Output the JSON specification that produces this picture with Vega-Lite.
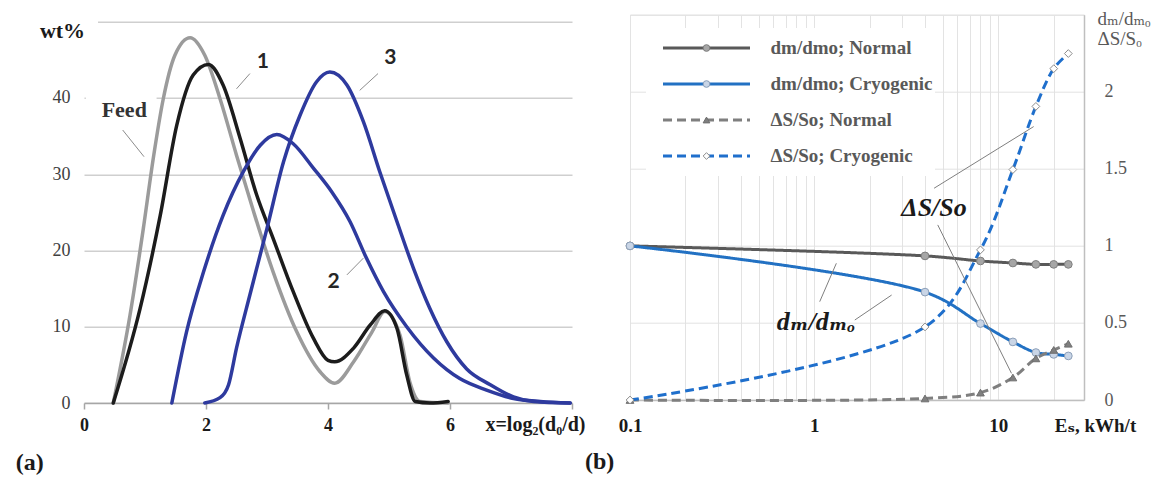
{
  "$schema": "https://vega.github.io/schema/vega-lite/v6.json",
  "autosize": {"type": "none"},
  "padding": {"left": 84, "top": 14.7, "right": 1075, "bottom": 464.3},
  "background": "white",
  "spacing": 58,
  "bounds": "flush",
  "config": {"view": {"stroke": null}},
  "resolve": {
    "scale": {"color": "independent", "strokeDash": "independent", "shape": "independent", "fill": "independent", "stroke": "independent", "x": "independent", "y": "independent"},
    "legend": {"color": "independent", "strokeDash": "independent", "shape": "independent", "fill": "independent", "stroke": "independent"}
  },
  "hconcat": [
    {
      "width": 488,
      "height": 388.3,
      "view": {"stroke": null},
      "layer": [
        {
          "data": {"values": [{"x1": 0, "x2": 0.23, "y1": 49.3, "y2": 50.7}, {"x1": 0.03, "x2": 1.19, "y1": 39.2, "y2": 40.8}]},
          "mark": {"type": "rect", "color": "white"},
          "encoding": {
            "x": {"field": "x1", "type": "quantitative"},
            "x2": {"field": "x2"},
            "y": {"field": "y1", "type": "quantitative"},
            "y2": {"field": "y2"}
          }
        },
        {
          "data": {"values": [
            {"s": "Feed", "x": 0.48, "y": 0}, {"s": "Feed", "x": 0.754, "y": 11.5}, {"s": "Feed", "x": 0.973, "y": 22.9}, {"s": "Feed", "x": 1.136, "y": 32.1}, {"s": "Feed", "x": 1.3, "y": 39.9}, {"s": "Feed", "x": 1.49, "y": 45.6}, {"s": "Feed", "x": 1.74, "y": 47.9}, {"s": "Feed", "x": 1.98, "y": 45.6}, {"s": "Feed", "x": 2.23, "y": 39.9}, {"s": "Feed", "x": 2.5, "y": 32.5}, {"s": "Feed", "x": 2.78, "y": 25.1}, {"s": "Feed", "x": 3.1, "y": 17.2}, {"s": "Feed", "x": 3.49, "y": 9.3}, {"s": "Feed", "x": 3.87, "y": 4.1}, {"s": "Feed", "x": 4.11, "y": 2.6}, {"s": "Feed", "x": 4.42, "y": 5.4}, {"s": "Feed", "x": 4.72, "y": 9.3}, {"s": "Feed", "x": 4.93, "y": 12.0}, {"s": "Feed", "x": 5.18, "y": 8.9}, {"s": "Feed", "x": 5.34, "y": 2.8}, {"s": "Feed", "x": 5.51, "y": 0.2}, {"s": "Feed", "x": 5.97, "y": 0},
            {"s": "1", "x": 0.48, "y": 0}, {"s": "1", "x": 0.92, "y": 12.4}, {"s": "1", "x": 1.25, "y": 24.6}, {"s": "1", "x": 1.52, "y": 36.4}, {"s": "1", "x": 1.79, "y": 43.0}, {"s": "1", "x": 2.04, "y": 44.4}, {"s": "1", "x": 2.28, "y": 41.7}, {"s": "1", "x": 2.56, "y": 34.7}, {"s": "1", "x": 2.83, "y": 27.3}, {"s": "1", "x": 3.1, "y": 21.6}, {"s": "1", "x": 3.43, "y": 14.6}, {"s": "1", "x": 3.76, "y": 8.5}, {"s": "1", "x": 4.0, "y": 5.6}, {"s": "1", "x": 4.11, "y": 5.4}, {"s": "1", "x": 4.42, "y": 7.2}, {"s": "1", "x": 4.69, "y": 10.2}, {"s": "1", "x": 4.93, "y": 12.1}, {"s": "1", "x": 5.13, "y": 9.8}, {"s": "1", "x": 5.29, "y": 3.7}, {"s": "1", "x": 5.43, "y": 0.2}, {"s": "1", "x": 5.67, "y": 0}, {"s": "1", "x": 5.97, "y": 0.2},
            {"s": "2", "x": 1.44, "y": 0}, {"s": "2", "x": 1.68, "y": 9.3}, {"s": "2", "x": 1.96, "y": 17.2}, {"s": "2", "x": 2.28, "y": 24.6}, {"s": "2", "x": 2.61, "y": 30.3}, {"s": "2", "x": 2.89, "y": 33.8}, {"s": "2", "x": 3.16, "y": 35.2}, {"s": "2", "x": 3.43, "y": 34.0}, {"s": "2", "x": 3.76, "y": 30.8}, {"s": "2", "x": 4.06, "y": 27.7}, {"s": "2", "x": 4.36, "y": 23.8}, {"s": "2", "x": 4.63, "y": 19.0}, {"s": "2", "x": 4.91, "y": 14.6}, {"s": "2", "x": 5.29, "y": 10.0}, {"s": "2", "x": 5.73, "y": 5.9}, {"s": "2", "x": 6.16, "y": 3.2}, {"s": "2", "x": 6.6, "y": 1.7}, {"s": "2", "x": 7.04, "y": 0.6}, {"s": "2", "x": 7.48, "y": 0.2}, {"s": "2", "x": 7.97, "y": 0},
            {"s": "3", "x": 1.98, "y": 0}, {"s": "3", "x": 2.23, "y": 0.7}, {"s": "3", "x": 2.37, "y": 2.4}, {"s": "3", "x": 2.5, "y": 7.2}, {"s": "3", "x": 2.72, "y": 14.2}, {"s": "3", "x": 3.0, "y": 22.9}, {"s": "3", "x": 3.27, "y": 31.6}, {"s": "3", "x": 3.54, "y": 37.7}, {"s": "3", "x": 3.81, "y": 42.1}, {"s": "3", "x": 4.03, "y": 43.4}, {"s": "3", "x": 4.31, "y": 41.7}, {"s": "3", "x": 4.58, "y": 36.9}, {"s": "3", "x": 4.85, "y": 30.3}, {"s": "3", "x": 5.13, "y": 23.8}, {"s": "3", "x": 5.4, "y": 17.7}, {"s": "3", "x": 5.67, "y": 12.4}, {"s": "3", "x": 5.95, "y": 8.0}, {"s": "3", "x": 6.27, "y": 4.5}, {"s": "3", "x": 6.66, "y": 2.4}, {"s": "3", "x": 7.04, "y": 0.8}, {"s": "3", "x": 7.37, "y": 0.2}, {"s": "3", "x": 7.97, "y": 0}
          ]},
          "mark": {"type": "line", "interpolate": "monotone", "strokeWidth": 3.5, "strokeCap": "round", "strokeJoin": "round"},
          "encoding": {
            "x": {
              "field": "x", "type": "quantitative",
              "scale": {"domain": [0, 8], "nice": false, "zero": false},
              "axis": {
                "values": [0, 2, 4, 6, 8], "grid": false, "format": "d",
                "domainColor": "#a6a6a6", "domainWidth": 1.5,
                "ticks": true, "tickColor": "#a6a6a6", "tickSize": 6, "tickWidth": 1.5,
                "labelExpr": "datum.value == 8 ? '' : datum.label",
                "labelFont": "Liberation Serif", "labelFontWeight": "bold", "labelFontSize": 18, "labelColor": "#1a1a1a",
                "labelPadding": 7, "labelFlush": false, "labelOverlap": false,
                "title": "x=log₂(d₀/d)", "titleFont": "Liberation Serif", "titleFontWeight": "bold", "titleFontSize": 20, "titleColor": "#1a1a1a",
                "titleX": 501, "titleY": 21, "titleAlign": "right", "titleBaseline": "middle", "titleAnchor": null
              }
            },
            "y": {
              "field": "y", "type": "quantitative",
              "scale": {"domain": [0, 50.92], "nice": false},
              "axis": {
                "values": [0, 10, 20, 30, 40, 50], "grid": true, "gridColor": "#cfcfcf", "gridWidth": 1.5, "format": "d",
                "domain": false, "ticks": false,
                "labelExpr": "datum.value == 50 ? '' : datum.label",
                "labelFont": "Liberation Serif", "labelFontSize": 18, "labelColor": "#404040", "labelPadding": 14,
                "title": "wt%", "titleAngle": 0, "titleX": -22, "titleY": 15.3, "titleAlign": "center", "titleBaseline": "middle",
                "titleFont": "Liberation Serif", "titleFontWeight": "bold", "titleFontSize": 22, "titleColor": "#1a1a1a"
              }
            },
            "color": {
              "field": "s", "type": "nominal",
              "scale": {"domain": ["Feed", "1", "2", "3"], "range": ["#9b9b9b", "#1c1c1c", "#2e3a9e", "#2e3a9e"]},
              "legend": null
            }
          }
        },
        {
          "mark": {"type": "rule", "color": "#a6a6a6", "strokeWidth": 1.5},
          "encoding": {
            "x": {"datum": 0, "type": "quantitative"},
            "y": {"datum": 0, "type": "quantitative"},
            "y2": {"datum": 46.7}
          }
        },
        {
          "data": {"values": [
            {"x1": 0.634, "y1": 35.8, "x2": 0.984, "y2": 32.3},
            {"x1": 2.72, "y1": 43.2, "x2": 2.5, "y2": 41.2},
            {"x1": 4.82, "y1": 43.2, "x2": 4.52, "y2": 41.0},
            {"x1": 4.31, "y1": 16.8, "x2": 4.58, "y2": 19.0}
          ]},
          "mark": {"type": "rule", "color": "#8c8c8c", "strokeWidth": 1},
          "encoding": {
            "x": {"field": "x1", "type": "quantitative"},
            "y": {"field": "y1", "type": "quantitative"},
            "x2": {"field": "x2"},
            "y2": {"field": "y2"}
          }
        },
        {
          "data": {"values": [{"t": "Feed", "tx": 0.66, "ty": 38.4}]},
          "mark": {"type": "text", "font": "Liberation Serif", "fontWeight": "bold", "fontSize": 22, "color": "#333333", "baseline": "middle", "align": "center"},
          "encoding": {
            "x": {"field": "tx", "type": "quantitative"},
            "y": {"field": "ty", "type": "quantitative"},
            "text": {"field": "t"}
          }
        },
        {
          "data": {"values": [{"t": "1", "tx": 2.93, "ty": 44.7}, {"t": "3", "tx": 5.02, "ty": 45.2}, {"t": "2", "tx": 4.09, "ty": 15.9}]},
          "mark": {"type": "text", "font": "Lato", "fontWeight": "bold", "fontSize": 21, "color": "#262626", "baseline": "middle", "align": "center"},
          "encoding": {
            "x": {"field": "tx", "type": "quantitative"},
            "y": {"field": "ty", "type": "quantitative"},
            "text": {"field": "t"}
          }
        },
        {
          "data": {"values": [{"t": "(a)", "tx": -0.89, "ty": -7.86}]},
          "mark": {"type": "text", "font": "Liberation Serif", "fontWeight": "bold", "fontSize": 24, "color": "#1a1a1a", "baseline": "middle", "align": "center"},
          "encoding": {
            "x": {"field": "tx", "type": "quantitative"},
            "y": {"field": "ty", "type": "quantitative"},
            "text": {"field": "t"}
          }
        }
      ]
    },
    {
      "width": 454,
      "height": 385.3,
      "view": {"stroke": "#e0e0e0"},
      "data": {"values": [
        {"E": 0.1, "v": 1.0, "series": "dm/dmo; Normal", "mk": "a"}, {"E": 4, "v": 0.935, "series": "dm/dmo; Normal", "mk": "a"}, {"E": 8, "v": 0.902, "series": "dm/dmo; Normal", "mk": "a"}, {"E": 12, "v": 0.889, "series": "dm/dmo; Normal", "mk": "a"}, {"E": 16, "v": 0.88, "series": "dm/dmo; Normal", "mk": "a"}, {"E": 20, "v": 0.88, "series": "dm/dmo; Normal", "mk": "a"}, {"E": 24, "v": 0.88, "series": "dm/dmo; Normal", "mk": "a"},
        {"E": 0.1, "v": 1.0, "series": "dm/dmo; Cryogenic", "mk": "b"}, {"E": 4, "v": 0.7, "series": "dm/dmo; Cryogenic", "mk": "b"}, {"E": 8, "v": 0.496, "series": "dm/dmo; Cryogenic", "mk": "b"}, {"E": 12, "v": 0.377, "series": "dm/dmo; Cryogenic", "mk": "b"}, {"E": 16, "v": 0.308, "series": "dm/dmo; Cryogenic", "mk": "b"}, {"E": 20, "v": 0.296, "series": "dm/dmo; Cryogenic", "mk": "b"}, {"E": 24, "v": 0.286, "series": "dm/dmo; Cryogenic", "mk": "b"},
        {"E": 0.1, "v": 0.0, "series": "ΔS/So; Normal", "mk": "c"}, {"E": 4, "v": 0.01, "series": "ΔS/So; Normal", "mk": "c"}, {"E": 8, "v": 0.048, "series": "ΔS/So; Normal", "mk": "c"}, {"E": 12, "v": 0.146, "series": "ΔS/So; Normal", "mk": "c"}, {"E": 16, "v": 0.27, "series": "ΔS/So; Normal", "mk": "c"}, {"E": 20, "v": 0.325, "series": "ΔS/So; Normal", "mk": "c"}, {"E": 24, "v": 0.365, "series": "ΔS/So; Normal", "mk": "c"},
        {"E": 0.1, "v": 0.0, "series": "ΔS/So; Cryogenic", "mk": "d"}, {"E": 4, "v": 0.474, "series": "ΔS/So; Cryogenic", "mk": "d"}, {"E": 8, "v": 0.974, "series": "ΔS/So; Cryogenic", "mk": "d"}, {"E": 12, "v": 1.495, "series": "ΔS/So; Cryogenic", "mk": "d"}, {"E": 16, "v": 1.905, "series": "ΔS/So; Cryogenic", "mk": "d"}, {"E": 20, "v": 2.15, "series": "ΔS/So; Cryogenic", "mk": "d"}, {"E": 24, "v": 2.248, "series": "ΔS/So; Cryogenic", "mk": "d"}
      ]},
      "layer": [
        {
          "mark": {"type": "line", "interpolate": "catmull-rom", "strokeWidth": 3},
          "encoding": {
            "x": {
              "field": "E", "type": "quantitative",
              "scale": {"type": "log", "domain": [0.1, 29.2], "nice": false},
              "axis": {
                "values": [0.1, 0.2, 0.3, 0.4, 0.5, 0.6, 0.7, 0.8, 0.9, 1, 2, 3, 4, 5, 6, 7, 8, 9, 10, 20],
                "grid": true, "gridColor": "#e3e3e3", "gridWidth": 1,
                "domainColor": "#bfbfbf", "domainWidth": 1.5, "ticks": false,
                "labelExpr": "datum.value == 0.1 ? '0.1' : (datum.value == 1 ? '1' : (datum.value == 10 ? '10' : ''))",
                "labelFont": "Liberation Serif", "labelFontWeight": "bold", "labelFontSize": 19, "labelColor": "#1a1a1a",
                "labelPadding": 16, "labelFlush": false, "labelOverlap": false,
                "title": "Eₛ, kWh/t", "titleFont": "Liberation Serif, DejaVu Serif", "titleFontWeight": "bold", "titleFontSize": 19, "titleColor": "#1a1a1a",
                "titleX": 465, "titleY": 25, "titleAlign": "center", "titleBaseline": "middle", "titleAnchor": null
              }
            },
            "y": {
              "field": "v", "type": "quantitative",
              "scale": {"domain": [0, 2.5], "nice": false},
              "axis": {
                "orient": "right",
                "values": [0, 0.5, 1, 1.5, 2, 2.5], "grid": true, "gridColor": "#e3e3e3", "gridWidth": 1, "format": "~g",
                "domain": true, "domainColor": "#bfbfbf", "domainWidth": 1.5, "ticks": false,
                "labelExpr": "datum.value == 2.5 ? '' : datum.label",
                "labelFont": "Liberation Serif", "labelFontSize": 18, "labelColor": "#595959", "labelAlign": "left", "labelPadding": 20,
                "title": ["dₘ/dₘₒ", "ΔS/Sₒ"], "titleAngle": 0, "titleAlign": "left", "titleBaseline": "top",
                "titleX": 13, "titleY": -5, "titleLineHeight": 20,
                "titleFont": "Liberation Serif, DejaVu Serif", "titleFontWeight": "normal", "titleFontSize": 19, "titleColor": "#595959"
              }
            },
            "color": {
              "field": "series", "type": "nominal",
              "scale": {"domain": ["dm/dmo; Normal", "dm/dmo; Cryogenic", "ΔS/So; Normal", "ΔS/So; Cryogenic"], "range": ["#595959", "#2271c3", "#7f7f7f", "#1f6fcc"]},
              "legend": {
                "title": null, "orient": "none", "legendX": 16, "legendY": 13.3,
                "symbolType": "stroke", "symbolSize": 7569, "symbolStrokeWidth": 3,
                "clipHeight": 36, "rowPadding": 0, "padding": 2, "symbolOffset": 13.5, "labelOffset": 19,
                "labelFont": "Liberation Serif", "labelFontWeight": "bold", "labelFontSize": 19, "labelColor": "#595959", "labelLimit": 400,
                "fillColor": "#ffffff", "strokeColor": null
              }
            },
            "strokeDash": {
              "field": "series", "type": "nominal",
              "scale": {"domain": ["dm/dmo; Normal", "dm/dmo; Cryogenic", "ΔS/So; Normal", "ΔS/So; Cryogenic"], "range": [[1, 0], [1, 0], [9, 5], [9, 5]]},
              "legend": {"title": null}
            }
          }
        },
        {
          "mark": {"type": "point", "filled": true, "size": 60, "strokeWidth": 1, "opacity": 1},
          "encoding": {
            "x": {"field": "E", "type": "quantitative"},
            "y": {"field": "v", "type": "quantitative"},
            "shape": {
              "field": "mk", "type": "nominal",
              "scale": {"domain": ["a", "b", "c", "d"], "range": ["circle", "circle", "triangle-up", "diamond"]},
              "legend": {
                "title": null, "orient": "none", "legendX": 16, "legendY": 13.3,
                "symbolSize": 45, "symbolStrokeWidth": 1,
                "clipHeight": 36, "rowPadding": 0, "padding": 2, "symbolOffset": 49,
                "labelFontSize": 19, "labelOpacity": 0, "fillColor": null, "strokeColor": null
              }
            },
            "fill": {
              "field": "mk", "type": "nominal",
              "scale": {"domain": ["a", "b", "c", "d"], "range": ["#a6a6a6", "#c9d5e6", "#7f7f7f", "#ffffff"]},
              "legend": {"title": null}
            },
            "stroke": {
              "field": "mk", "type": "nominal",
              "scale": {"domain": ["a", "b", "c", "d"], "range": ["#7f7f7f", "#8c9fb8", "#6f6f6f", "#8c8c8c"]},
              "legend": {"title": null}
            }
          }
        },
        {
          "data": {"values": [
            {"x1": 4.48, "y1": 1.374, "x2": 15.56, "y2": 1.774},
            {"x1": 4.69, "y1": 1.136, "x2": 11.79, "y2": 0.173},
            {"x1": 1.072, "y1": 0.638, "x2": 1.32, "y2": 0.887},
            {"x1": 1.663, "y1": 0.519, "x2": 2.635, "y2": 0.681}
          ]},
          "mark": {"type": "rule", "color": "#7f7f7f", "strokeWidth": 1},
          "encoding": {
            "x": {"field": "x1", "type": "quantitative"},
            "y": {"field": "y1", "type": "quantitative"},
            "x2": {"field": "x2"},
            "y2": {"field": "y2"}
          }
        },
        {
          "data": {"values": [{"t": "ΔS/So", "tx": 4.48, "ty": 1.244}, {"t": "dₘ/dₘₒ", "tx": 1.024, "ty": 0.508}]},
          "mark": {"type": "text", "font": "Liberation Serif, DejaVu Serif", "fontWeight": "bold", "fontStyle": "italic", "fontSize": 26, "color": "#1a1a1a", "baseline": "middle", "align": "center"},
          "encoding": {
            "x": {"field": "tx", "type": "quantitative"},
            "y": {"field": "ty", "type": "quantitative"},
            "text": {"field": "t"}
          }
        },
        {
          "data": {"values": [{"t": "(b)", "tx": 0.0684, "ty": -0.4}]},
          "mark": {"type": "text", "font": "Liberation Serif", "fontWeight": "bold", "fontSize": 24, "color": "#1a1a1a", "baseline": "middle", "align": "center"},
          "encoding": {
            "x": {"field": "tx", "type": "quantitative"},
            "y": {"field": "ty", "type": "quantitative"},
            "text": {"field": "t"}
          }
        }
      ]
    }
  ]
}
